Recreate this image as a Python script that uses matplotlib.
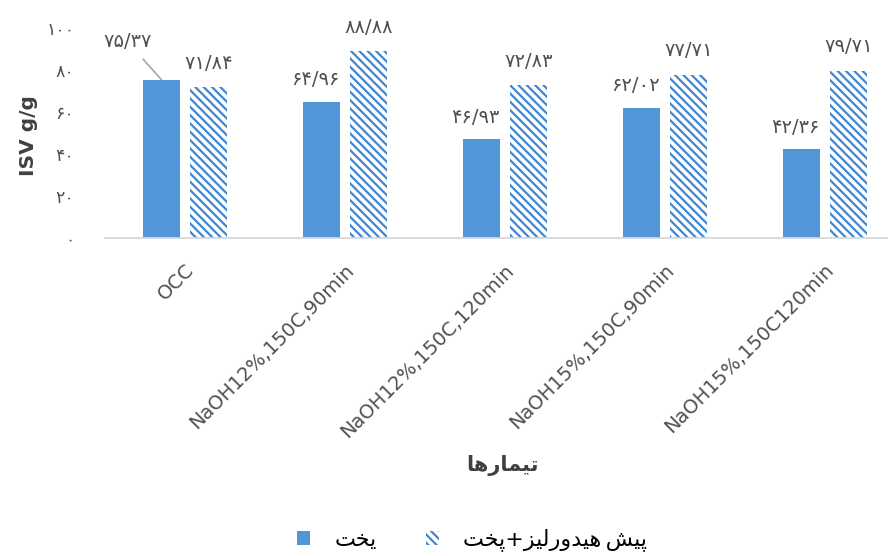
import matplotlib
matplotlib.use("Agg")
import matplotlib.pyplot as plt
import matplotlib.transforms as mtransforms
from matplotlib.patches import Patch
import numpy as np

# ---------------- data ----------------
categories = ["OCC", "NaOH12%,150C,90min", "NaOH12%,150C,120min",
              "NaOH15%,150C,90min", "NaOH15%,150C120min"]
cook = [75.37, 64.96, 46.93, 62.02, 42.36]
prehyd_cook = [71.84, 88.88, 72.83, 77.71, 79.71]
cook_labels = ["۷۵/۳۷", "۶۴/۹۶", "۴۶/۹۳", "۶۲/۰۲", "۴۲/۳۶"]
prehyd_labels = ["۷۱/۸۴", "۸۸/۸۸", "۷۲/۸۳", "۷۷/۷۱", "۷۹/۷۱"]
yticks = [0, 20, 40, 60, 80, 100]
ytick_labels = ["۰", "۲۰", "۴۰", "۶۰", "۸۰", "۱۰۰"]

# Persian text written in shaped (presentation) forms, visual order
xlabel_text = "\uFE8E\uFEEB\uFEAD\uFE8E\uFEE4\uFEF4\uFE97"          # تیمارها
leg_cook = "\uFE96\uFEA8\uFEF3"                                    # یخت
leg_pre = ("\uFE96\uFEA8\uFB58+\uFEB0\uFEF4\uFEDF\uFEAD\uFEED\uFEAA\uFEF4\uFEEB"
           "\u2009\uFEB6\uFEF4\uFB58")                             # پیش‌هیدرولیز+پخت

plt.rcParams["font.family"] = ["DejaVu Sans"]
plt.rcParams["hatch.linewidth"] = 1.6
blue = "#5096D8"
hatch_blue = "#3F87D2"
plt.rcParams["hatch.color"] = hatch_blue
txt = "#505050"

W, H = 888, 556
fig = plt.figure(figsize=(W / 100, H / 100), dpi=100)
ax = fig.add_axes([105 / W, 318 / H, (W - 105) / W, 210 / H])

x = np.arange(len(categories))
off = 0.147
bw = 0.23
ax.bar(x - off, cook, bw, color=blue, linewidth=0)
ax.bar(x + off, prehyd_cook, bw, facecolor="white", edgecolor=hatch_blue,
       hatch="\\\\\\\\", linewidth=0)

ax.set_xlim(-0.5, (W - 185) / 160)
ax.set_ylim(0, 100)
ax.set_yticks(yticks)
ax.set_yticklabels(ytick_labels, fontsize=12.5, color=txt)
ax.tick_params(axis="y", length=0, pad=22)
ax.set_xticks(x)
ax.set_xticklabels(categories, rotation=45, ha="right", va="center",
                   rotation_mode="anchor", fontsize=14, color=txt)
ax.tick_params(axis="x", length=0, pad=21)
shift = mtransforms.ScaledTranslation(6 / 100, 0, fig.dpi_scale_trans)
for lab in ax.get_xticklabels():
    lab.set_transform(lab.get_transform() + shift)

for s in ["top", "right", "left"]:
    ax.spines[s].set_visible(False)
ax.spines["bottom"].set_color("#D9D9D9")
ax.spines["bottom"].set_linewidth(1.3)

# value labels
vfont = dict(fontsize=14, color=txt)
for i in range(len(categories)):
    if i == 0:
        ax.annotate(cook_labels[i], xy=(x[i] - off, cook[i]),
                    xytext=(-34, 38), textcoords="offset pixels",
                    ha="center", va="center",
                    arrowprops=dict(arrowstyle="-", color="#A6A6A6", lw=1.2,
                                    shrinkA=5, shrinkB=0), **vfont)
    else:
        ax.annotate(cook_labels[i], xy=(x[i] - off, cook[i]),
                    xytext=(-6, 22), textcoords="offset pixels",
                    ha="center", va="center", **vfont)
    ax.annotate(prehyd_labels[i], xy=(x[i] + off, prehyd_cook[i]),
                xytext=(0, 24), textcoords="offset pixels",
                ha="center", va="center", **vfont)

fig.text(28 / W, 1 - 136 / H, "ISV g/g", rotation=90, ha="center", va="center",
         fontsize=14.5, fontweight="bold", color="#404040")
fig.text(502 / W, 1 - 465 / H, xlabel_text, ha="center", va="center",
         fontsize=15, fontweight="bold", color="#404040")

handles = [Patch(facecolor=blue, edgecolor="none"),
           Patch(facecolor="white", edgecolor=hatch_blue, hatch="\\\\\\\\", linewidth=0)]
fig.legend(handles, [leg_cook, leg_pre], loc="center", bbox_to_anchor=(472 / W, 1 - 540 / H),
           ncol=2, frameon=False, fontsize=16, handlelength=0.6, handleheight=0.6,
           handletextpad=1.1, columnspacing=2.2, labelcolor="black")

fig.savefig("out.png", dpi=100)
